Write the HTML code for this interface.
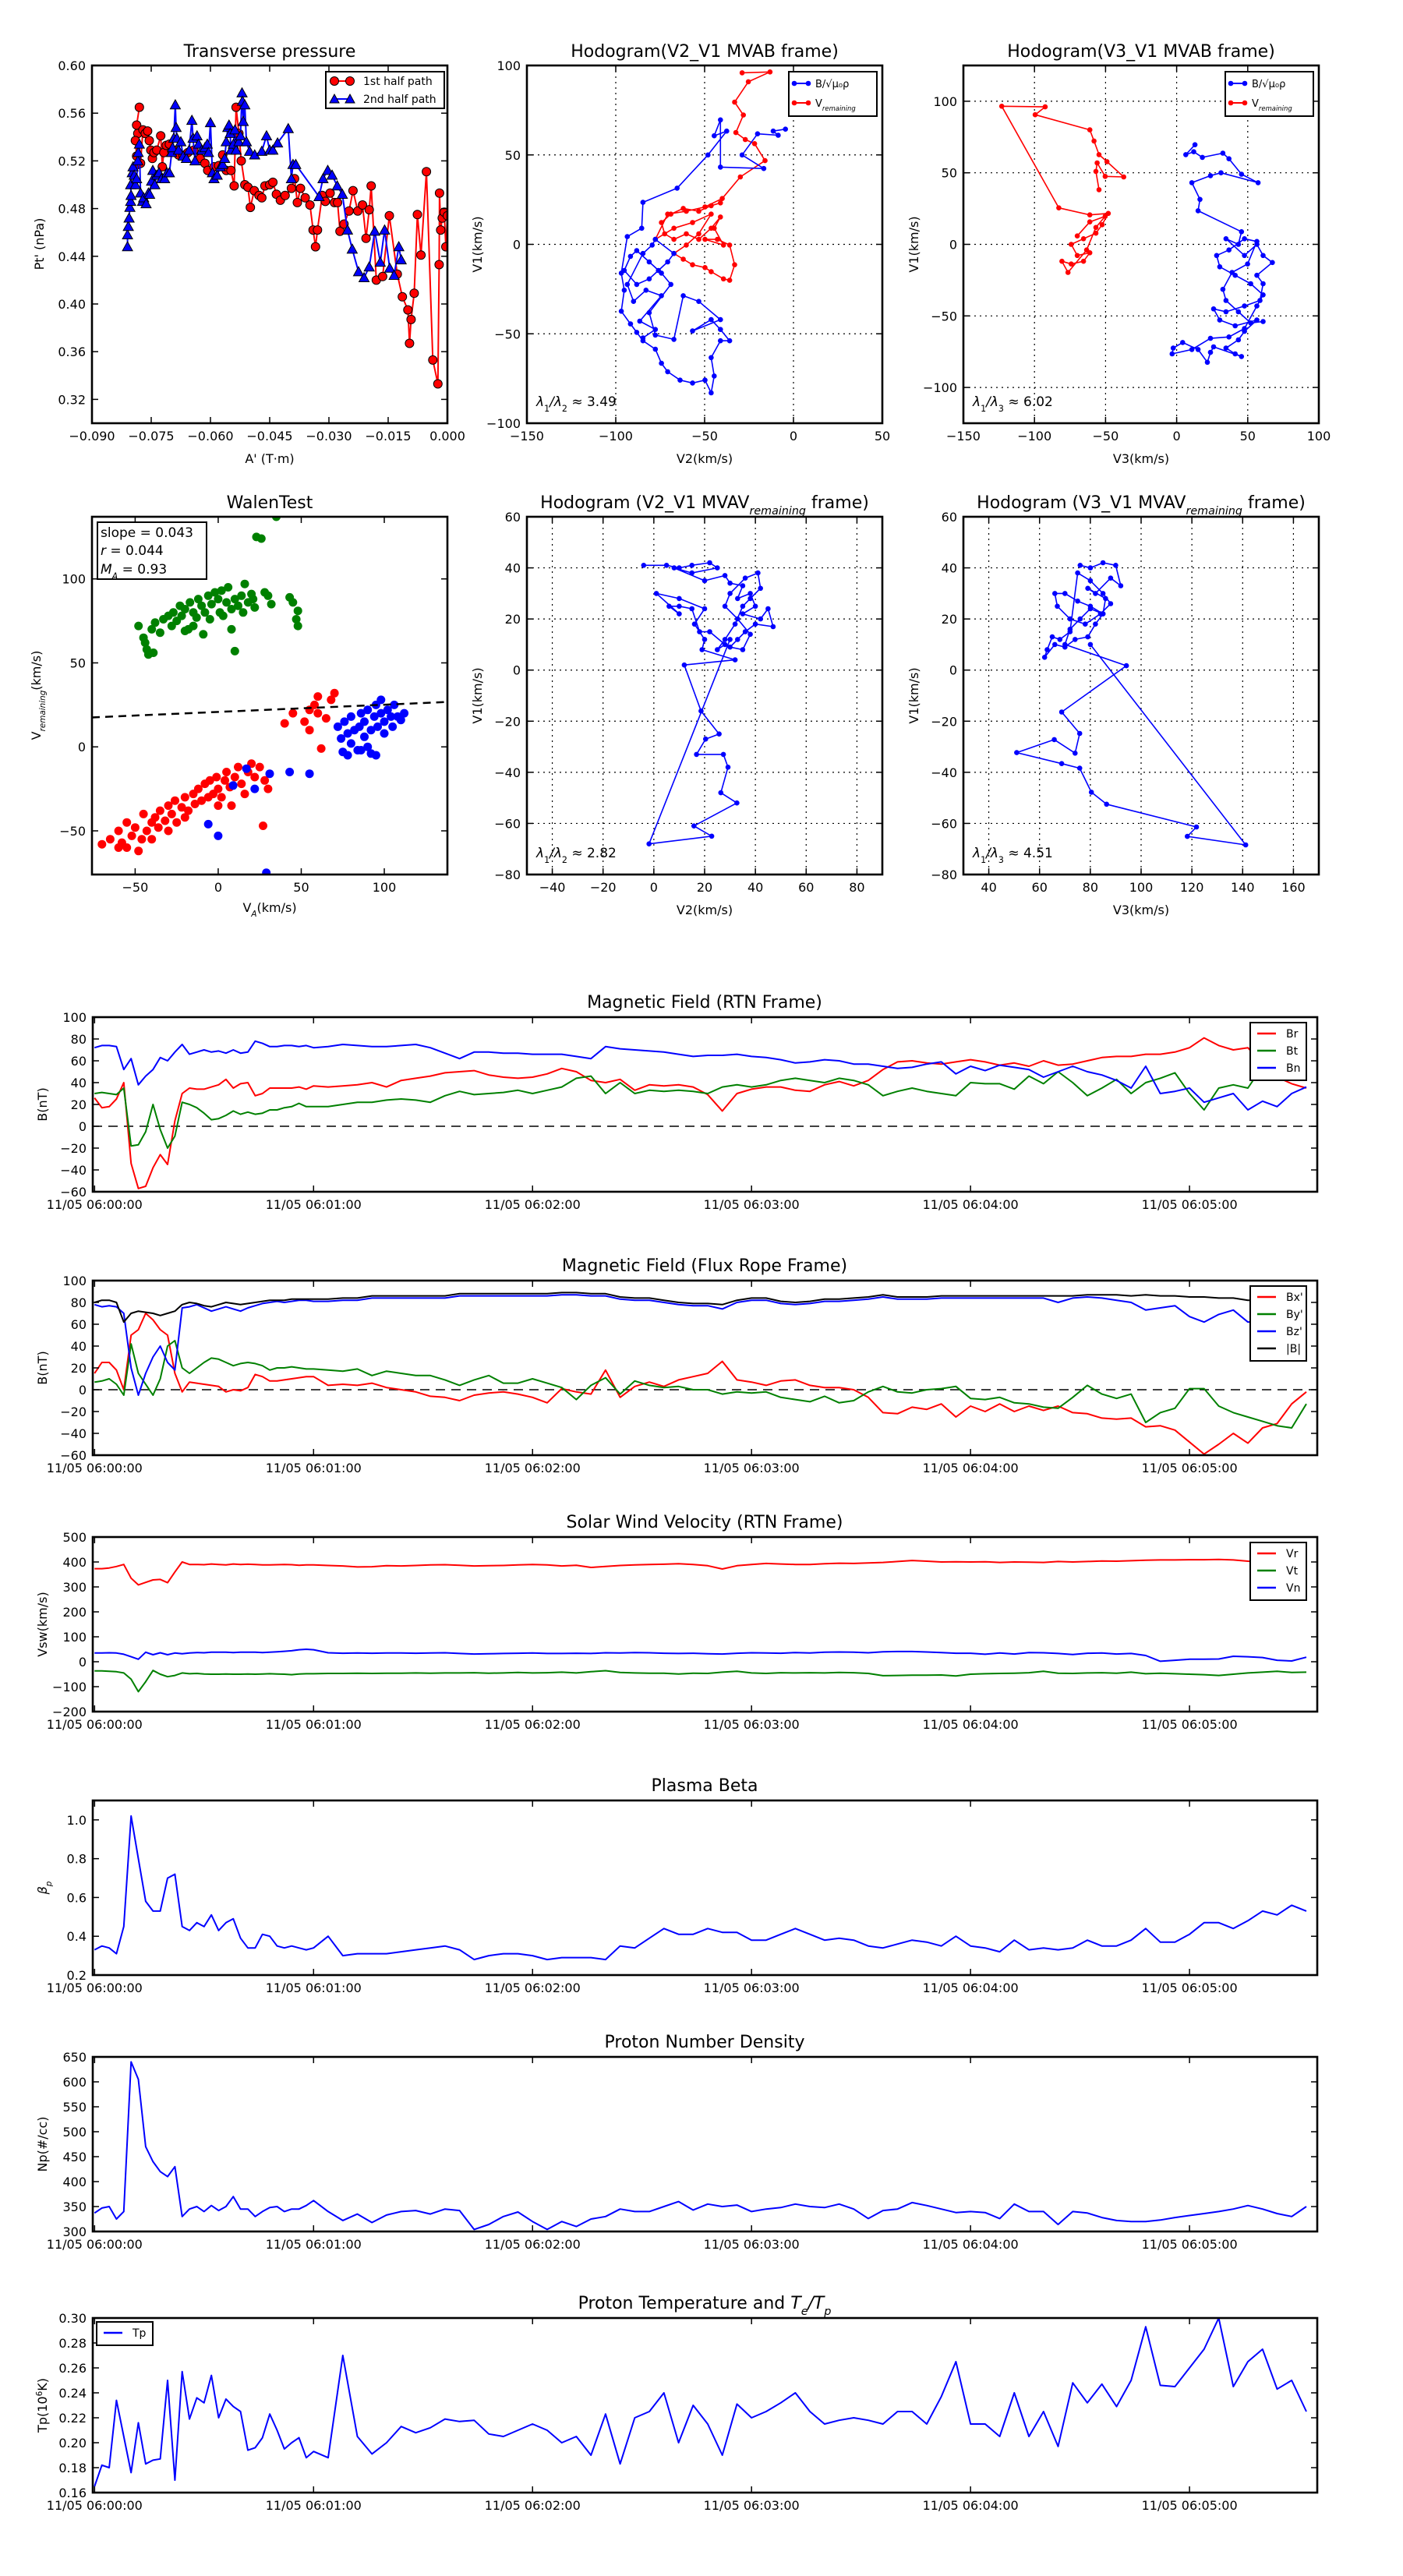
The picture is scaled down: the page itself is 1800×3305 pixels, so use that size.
<!DOCTYPE html>
<html><head><meta charset="utf-8">
<style>
body{margin:0;background:#fff}
svg text{font-family:"DejaVu Sans","Liberation Sans",sans-serif;fill:#000}
</style></head>
<body>
<svg id="fig" xmlns="http://www.w3.org/2000/svg" width="1800" height="3300" viewBox="0 0 1800 3300">
<rect x="0" y="0" width="1800" height="3300" fill="#fff"/>
</svg>
<script>
// ---------- time-series data ----------
const T=[0,2,4,6,8,10,12,14,16,18,20,22,24,26,28,30,32,34,36,38,40,42,44,46,48,50,52,54,56,58,60,64,68,72,76,80,84,88,92,96,100,104,108,112,116,120,124,128,132,136,140,144,148,152,156,160,164,168,172,176,180,184,188,192,196,200,204,208,212,216,220,224,228,232,236,240,244,248,252,256,260,264,268,272,276,280,284,288,292,296,300,304,308,312,316,320,324,328,332];
const Br=[26,17,18,25,40,-34,-57,-55,-38,-26,-35,5,30,35,34,34,36,38,43,35,39,40,28,30,35,35,35,35,36,34,
37,36,37,38,40,36,42,44,46,49, 50,51,47,45,44,45,48,53,50,42, 40,43,33,38,37,38,36,29,14,30, 34,36,36,33,32,38,41,37,42,52, 59,60,58,57,59,61,59,56,58,55, 60,56,57,60,63,64,64,66,66,68, 72,81,74,70,72,57,45,39,35];
const Bt=[30,31,30,29,35,-18,-17,-5,20,-3,-20,-9,22,20,17,12,6,7,10,14,11,13,11,12,15,15,17,18,21,18,
18,18,20,22,22,24,25,24,22,28, 32,29,30,31,33,30,33,36,44,46, 30,40,30,33,32,33,32,30,36,38, 36,38,42,44,42,40,44,42,38,28, 32,35,32,30,28,40,39,39,34,46, 39,50,40,28,35,43,30,40,44,49, 30,15,35,38,35,55,52,48,45];
const Bn=[72,74,74,73,52,62,38,46,52,63,60,68,75,66,68,70,68,69,67,70,67,68,78,76,73,73,74,74,73,74,
72,73,75,74,73,73,74,75,72,67, 62,68,68,67,67,66,66,66,64,62, 73,71,70,69,68,66,64,65,65,66, 64,63,61,58,59,61,60,57,57,55, 53,54,57,59,48,55,51,56,54,52, 45,50,55,50,47,42,35,55,30,32, 35,22,26,30,15,23,18,30,36];
const Bx=[15,25,25,18,0,50,55,70,64,55,50,15,-2,7,6,5,4,3,-2,0,-1,2,14,12,8,8,9,10,11,12,
12,4,5,4,6,2,0,-2,-6,-7, -10,-5,-3,-2,-4,-7,-12,1,-2,-4, 18,-7,3,7,3,9,12,15,26,9, 7,4,8,9,4,2,2,0,-7,-21, -22,-16,-18,-13,-25,-15,-20,-13,-20,-15, -19,-15,-21,-22,-26,-27,-26,-34,-33,-37, -48,-59,-50,-40,-49,-35,-31,-13,-2];
const By=[7,8,10,5,-5,42,15,5,-5,10,40,45,20,15,20,25,29,28,25,22,24,25,24,22,18,20,20,21,20,19,
19,18,17,19,13,17,15,13,13,9, 4,9,13,6,6,10,6,2,-9,4, 11,-4,8,4,2,3,0,0,-4,-2, -3,-2,-7,-9,-11,-6,-12,-10,-2,3, -2,-3,0,1,3,-8,-9,-7,-12,-13, -16,-17,-7,4,-4,-8,-4,-30,-21,-17, 1,1,-15,-21,-25,-29,-33,-35,-13];
const Bz=[78,76,77,76,70,20,-5,15,30,40,25,18,75,76,78,75,72,74,76,74,72,75,77,79,80,81,80,81,82,82,
81,81,82,82,84,84,84,84,84,84, 86,86,86,86,86,86,86,87,87,86, 86,83,82,82,80,78,77,77,74,80, 82,82,79,78,79,81,81,82,83,85, 83,83,83,84,84,84,84,84,84,84, 84,80,84,85,84,82,80,73,75,77, 67,62,69,73,62,63,67,70,73];
const Bmag=[80,82,82,80,62,70,72,71,70,68,70,72,78,80,79,77,76,78,80,79,78,79,80,81,82,82,82,83,83,83,
83,83,84,84,86,86,86,86,86,86, 88,88,88,88,88,88,88,89,89,88, 88,85,84,84,82,80,79,79,78,82, 84,84,81,80,81,83,83,84,85,87, 85,85,85,86,86,86,86,86,86,86, 86,86,86,87,87,87,86,87,86,86, 85,85,84,84,82,82,83,82,81];
const Vr=[373,373,376,382,390,335,308,318,328,330,317,360,400,390,390,389,392,390,388,392,390,391,390,388,388,389,390,389,387,388,
388,386,384,380,381,385,384,386,388,389, 387,384,385,386,388,390,388,384,387,378, 382,386,388,390,391,393,390,385,372,385, 390,394,392,390,390,393,395,394,396,398, 402,406,403,400,401,400,401,398,400,399, 398,402,400,402,404,403,405,407,408,408, 409,409,410,408,403,400,397,385,375];
const Vt=[-37,-37,-38,-40,-45,-70,-120,-80,-35,-50,-60,-55,-45,-48,-47,-49,-50,-50,-49,-50,-50,-49,-50,-49,-48,-49,-50,-52,-49,-48,
-48,-47,-47,-46,-47,-46,-46,-45,-46,-45, -45,-44,-46,-45,-43,-45,-44,-42,-45,-40, -36,-43,-45,-46,-46,-49,-46,-47,-42,-38, -45,-47,-44,-45,-44,-45,-43,-44,-47,-56, -55,-54,-54,-53,-57,-50,-48,-47,-46,-44, -38,-46,-47,-45,-44,-46,-42,-48,-46,-48, -50,-52,-55,-50,-45,-42,-38,-43,-42];
const Vn=[35,35,36,35,30,20,10,38,28,36,28,35,32,35,37,36,38,38,38,37,38,38,38,37,38,40,42,44,48,50,
48,36,34,35,34,35,35,34,35,36, 33,31,32,33,34,35,33,33,34,33, 36,35,37,36,34,33,34,32,31,34, 36,35,34,37,35,38,39,38,36,40, 41,41,39,37,34,34,30,35,31,37, 36,33,29,34,35,31,33,25,2,6, 10,10,11,22,20,17,6,3,18];
const Beta=[0.33,0.35,0.34,0.31,0.45,1.02,0.80,0.58,0.53,0.53,0.70,0.72,0.45,0.43,0.47,0.45,0.51,0.43,0.47,0.49,0.39,0.34,0.34,0.41,0.40,0.35,0.34,0.35,0.34,0.33,
0.34,0.40,0.30,0.31,0.31,0.31,0.32,0.33,0.34,0.35, 0.33,0.28,0.30,0.31,0.31,0.30,0.28,0.29,0.29,0.29, 0.28,0.35,0.34,0.39,0.44,0.41,0.41,0.44,0.42,0.42, 0.38,0.38,0.41,0.44,0.41,0.38,0.39,0.38,0.35,0.34, 0.36,0.38,0.37,0.35,0.40,0.35,0.34,0.32,0.38,0.33, 0.34,0.33,0.34,0.38,0.35,0.35,0.38,0.44,0.37,0.37, 0.41,0.47,0.47,0.44,0.48,0.53,0.51,0.56,0.53];
const Np=[337,347,350,325,340,640,605,470,440,420,410,430,330,345,350,340,352,342,350,370,345,345,330,340,348,350,340,345,345,352,
362,340,322,335,318,333,340,342,335,345, 342,304,314,330,339,320,304,320,310,325, 330,345,340,340,350,360,343,355,350,353, 340,345,348,355,350,348,355,345,326,342, 345,358,352,345,338,340,338,326,355,340, 340,314,340,337,328,322,320,320,323,328, 332,336,340,345,352,345,336,330,350];
const Tp=[0.165,0.182,0.18,0.234,0.205,0.176,0.216,0.183,0.186,0.187,0.25,0.17,0.257,0.219,0.236,0.232,0.254,0.22,0.235,0.229,0.225,0.194,0.196,0.204,0.223,0.21,0.195,0.20,0.204,0.188,
0.193,0.188,0.27,0.205,0.191,0.20,0.213,0.208,0.212,0.219, 0.217,0.218,0.207,0.205,0.21,0.215,0.21,0.20,0.205,0.19, 0.223,0.183,0.22,0.225,0.24,0.20,0.23,0.215,0.19,0.231, 0.22,0.225,0.232,0.24,0.225,0.215,0.218,0.22,0.218,0.215, 0.225,0.225,0.215,0.237,0.265,0.215,0.215,0.205,0.240,0.205, 0.225,0.197,0.248,0.232,0.247,0.229,0.25,0.293,0.246,0.245, 0.26,0.275,0.30,0.245,0.265,0.275,0.243,0.25,0.225];
const timeTicks=[0,60,120,180,240,300];
const timeTickLabels=["11/05 06:00:00","11/05 06:01:00","11/05 06:02:00","11/05 06:03:00","11/05 06:04:00","11/05 06:05:00"];

// ---------- scatter / hodogram data ----------
const p1RedX=[-0.0780,-0.0787,-0.0784,-0.0790,-0.0787,-0.0783,-0.0777,-0.0771,-0.0765,-0.0759,-0.0755,-0.0751,-0.0747,-0.0743,-0.0736,-0.0726,-0.0722,-0.0718,-0.0712,-0.0704,-0.0693,-0.0681,-0.0669,-0.0657,-0.0642,-0.0626,-0.0614,-0.0607,-0.0591,-0.0579,-0.0569,-0.0560,-0.0548,-0.0540,-0.0535,-0.0528,-0.0522,-0.0513,-0.0505,-0.0499,-0.0489,-0.0477,-0.0470,-0.0462,-0.0450,-0.0442,-0.0433,-0.0423,-0.0411,-0.0395,-0.0387,-0.0380,-0.0372,-0.0360,-0.0348,-0.0340,-0.0334,-0.0329,-0.0317,-0.0309,-0.0297,-0.0286,-0.0278,-0.0272,-0.0262,-0.0249,-0.0239,-0.0227,-0.0215,-0.0206,-0.0198,-0.0193,-0.0180,-0.0164,-0.0147,-0.0127,-0.0114,-0.0100,-0.0096,-0.0092,-0.0084,-0.0076,-0.0067,-0.0053,-0.0037,-0.0024,-0.0021,-0.0020,-0.0017,-0.0013,-0.0008,-0.0004,0.0000];
const p1RedY=[0.565,0.550,0.543,0.537,0.524,0.517,0.518,0.546,0.543,0.545,0.537,0.529,0.522,0.527,0.529,0.541,0.515,0.527,0.533,0.534,0.529,0.525,0.524,0.527,0.529,0.522,0.518,0.512,0.515,0.516,0.525,0.512,0.512,0.499,0.565,0.543,0.520,0.500,0.498,0.481,0.495,0.491,0.489,0.499,0.500,0.502,0.492,0.487,0.491,0.497,0.505,0.485,0.497,0.489,0.483,0.462,0.448,0.462,0.491,0.486,0.493,0.485,0.485,0.461,0.467,0.478,0.495,0.478,0.483,0.455,0.479,0.499,0.420,0.423,0.474,0.425,0.406,0.395,0.367,0.387,0.409,0.475,0.441,0.511,0.353,0.333,0.433,0.493,0.462,0.472,0.477,0.448,0.474];
const p1BlueX=[-0.0810,-0.0810,-0.0808,-0.0806,-0.0804,-0.0802,-0.0801,-0.0802,-0.0798,-0.0796,-0.0793,-0.0790,-0.0787,-0.0784,-0.0783,-0.0780,-0.0777,-0.0772,-0.0769,-0.0763,-0.0757,-0.0754,-0.0749,-0.0746,-0.0741,-0.0736,-0.0730,-0.0724,-0.0716,-0.0710,-0.0704,-0.0698,-0.0696,-0.0693,-0.0689,-0.0687,-0.0685,-0.0681,-0.0675,-0.0669,-0.0661,-0.0654,-0.0647,-0.0644,-0.0639,-0.0634,-0.0630,-0.0622,-0.0614,-0.0608,-0.0605,-0.0600,-0.0595,-0.0591,-0.0583,-0.0575,-0.0569,-0.0564,-0.0560,-0.0556,-0.0553,-0.0550,-0.0548,-0.0542,-0.0538,-0.0535,-0.0528,-0.0524,-0.0520,-0.0519,-0.0517,-0.0513,-0.0509,-0.0501,-0.0488,-0.0470,-0.0458,-0.0450,-0.0442,-0.0430,-0.0403,-0.0395,-0.0391,-0.0384,-0.0325,-0.0315,-0.0303,-0.0292,-0.0279,-0.0266,-0.0253,-0.0241,-0.0225,-0.0211,-0.0198,-0.0184,-0.0170,-0.0159,-0.0146,-0.0135,-0.0123,-0.0117];
const p1BlueY=[0.448,0.458,0.465,0.472,0.481,0.486,0.491,0.500,0.510,0.515,0.508,0.500,0.505,0.520,0.527,0.534,0.493,0.486,0.489,0.484,0.493,0.492,0.503,0.512,0.500,0.508,0.510,0.505,0.505,0.510,0.510,0.527,0.531,0.539,0.567,0.548,0.539,0.529,0.536,0.524,0.522,0.529,0.554,0.539,0.520,0.541,0.534,0.529,0.531,0.534,0.527,0.552,0.510,0.505,0.508,0.515,0.517,0.522,0.536,0.548,0.550,0.543,0.529,0.534,0.546,0.529,0.536,0.541,0.577,0.570,0.553,0.567,0.536,0.528,0.525,0.528,0.541,0.529,0.529,0.535,0.547,0.505,0.517,0.517,0.490,0.505,0.512,0.508,0.499,0.492,0.462,0.446,0.427,0.422,0.431,0.461,0.435,0.462,0.430,0.424,0.448,0.437];

const p2BlueX=[-4.5,-11.4,-8.6,-20.2,-28.9,-16.7,-41.1,-41.1,-44.6,-37.6,-48.1,-65.5,-84.7,-85.4,-93.5,-96.9,-95.2,-96.9,-91.7,-88.2,-84.7,-77.7,-74.3,-70.8,-63.8,-56.8,-49.8,-46.3,-44.6,-46.3,-41.1,-35.9,-41.1,-46.3,-56.8,-41.1,-53.3,-62.0,-67.3,-77.7,-81.2,-69.0,-74.3,-81.2,-88.2,-91.7,-95.2,-88.2,-81.2,-76.0,-70.8,-67.3,-77.7,-79.5,-84.7,-93.5,-90.0,-83.0,-74.3,-86.5,-77.7,-84.7];
const p2BlueY=[64.4,63.3,61.0,61.8,50.0,42.4,43.2,69.6,60.7,63.3,50.0,31.4,23.5,9.0,4.3,-16.1,-25.6,-37.4,-44.5,-49.2,-53.9,-58.6,-66.5,-71.2,-75.9,-77.5,-75.9,-83.0,-73.6,-63.3,-53.9,-53.9,-47.6,-42.1,-48.4,-42.1,-31.9,-28.7,-53.1,-50.7,-38.2,-22.4,-16.1,-9.8,-3.5,-6.7,-14.6,-22.4,-19.3,-14.6,-9.8,-5.1,2.8,-0.4,-5.1,-22.4,-31.9,-25.6,-28.7,-42.9,-47.6,-52.3];
const p2RedX=[-28.9,-13.2,-25.4,-33.1,-28.2,-32.4,-27.1,-21.9,-16.0,-29.9,-40.1,-49.8,-60.3,-70.8,-77.7,-67.3,-56.8,-46.3,-53.3,-60.3,-67.3,-62.0,-56.8,-49.8,-46.3,-39.4,-35.9,-33.1,-35.9,-42.8,-49.8,-39.4,-44.6,-41.1,-46.3,-53.3,-60.3,-67.3,-72.5,-74.3,-69.0,-62.0,-53.3,-46.3,-41.1];
const p2RedY=[95.9,96.4,90.9,79.5,72.3,62.5,58.6,56.3,46.8,37.7,25.6,20.9,18.5,16.9,2.8,9.0,12.2,16.9,5.9,-0.4,-5.1,-8.3,-11.4,-13.0,-15.3,-19.3,-20.1,-11.4,-0.4,2.8,2.8,-0.4,9.0,15.3,9.0,2.8,5.9,2.8,5.9,12.2,16.9,20.1,18.5,21.6,23.2];
const p3BlueX=[12.9,6.4,12.0,18.1,32.5,36.8,45.6,57.3,31.2,23.8,10.7,16.4,15.1,45.6,43.4,34.7,47.7,56.4,60.8,67.3,56.4,60.8,58.6,47.7,34.7,26.0,30.3,41.2,56.4,47.7,43.4,34.7,41.2,45.6,26.0,23.8,21.6,15.1,4.2,-2.4,-3.2,10.7,23.8,36.8,47.7,56.4,60.8,52.1,41.2,30.3,28.1,36.8,47.7,56.4,49.9,39.0,32.5,34.7,43.4,52.1,60.8];
const p3BlueY=[69.6,62.7,64.7,60.8,63.7,59.8,49.0,43.1,50.0,48.0,43.1,31.4,23.5,8.8,0,3.9,-7.8,0,-7.8,-12.7,-21.6,-27.5,-39.2,-43.1,-47.1,-45.1,-52.9,-56.9,-52.9,-60.8,-66.7,-72.5,-76.5,-78.4,-71.6,-75.5,-82.4,-73.5,-68.6,-72.5,-76.5,-73.5,-65.7,-64.7,-58.8,-43.1,-35.3,-27.5,-21.6,-15.7,-7.8,-3.9,3.9,2.0,-13.7,-19.6,-31.4,-39.2,-47.1,-54.9,-53.9];
const p3RedX=[-54.6,-56.8,-55.9,-50.3,-37.2,-49.0,-54.6,-58.1,-61.1,-99.5,-92.5,-123.0,-82.9,-61.1,-48.1,-52.4,-56.8,-65.5,-74.2,-69.9,-61.1,-65.5,-74.2,-80.7,-76.4,-63.3,-56.8,-50.3,-61.1,-69.9];
const p3RedY=[38.2,51.0,56.9,47.5,47.1,57.8,62.7,72.2,80.0,90.6,96.1,96.5,25.5,20.6,21.6,13.7,7.8,3.9,0,-7.8,-5.9,-11.8,-13.7,-11.8,-19.6,-3.9,11.8,19.6,15.7,5.9];

const walenGreenX=[-48,-45,-44,-43,-42,-40,-38,-35,-33,-30,-28,-27,-25,-23,-22,-20,-18,-17,-15,-13,-12,-10,-9,-8,-6,-5,-4,-2,0,1,2,3,5,6,8,8,10,10,12,14,15,16,18,20,21,22,23,26,28,30,32,35,43,45,48,48,47,-39,-20,-15];
const walenGreenY=[72,65,62,58,55,70,74,68,76,78,72,80,75,84,78,82,70,86,80,77,88,84,67,80,90,76,85,92,88,80,93,78,86,95,82,70,88,57,84,90,80,97,86,91,88,83,125,124,92,90,85,137,89,86,81,72,76,56,69,72];
const walenRedX=[-70,-65,-60,-58,-55,-52,-50,-48,-46,-45,-43,-40,-38,-36,-35,-32,-30,-28,-26,-25,-22,-20,-18,-15,-14,-12,-10,-8,-6,-5,-3,-1,0,2,4,5,7,8,10,12,14,16,18,20,22,25,28,30,27,-40,-30,-20,0,-60,-55,40,45,52,55,58,60,62,65,68,70,60,55];
const walenRedY=[-58,-55,-50,-57,-60,-53,-48,-62,-55,-40,-50,-45,-42,-48,-38,-44,-35,-40,-32,-45,-36,-30,-38,-28,-34,-25,-32,-22,-30,-20,-28,-18,-25,-30,-20,-15,-24,-35,-18,-12,-22,-28,-15,-10,-18,-12,-20,-25,-47,-55,-50,-42,-35,-60,-45,14,20,15,10,25,20,-1,17,28,32,30,22];
const walenBlueX=[72,74,75,76,78,80,80,82,84,85,86,88,88,90,90,92,94,95,95,96,98,98,100,100,102,104,105,106,108,110,112,92,86,78,17,31,43,55,9,22,-6,0,29];
const walenBlueY=[12,5,-3,15,8,2,18,10,-2,12,20,6,15,22,0,10,18,25,-5,12,28,20,15,8,22,18,12,25,18,16,20,-4,-2,-5,-13,-16,-15,-16,-23,-25,-46,-53,-75];
const walenSlope=0.043, walenIntercept=20.8;

const p5X=[-4,5,10,15,22,25,15,8,20,28,30,35,33,38,40,35,42,45,47,40,36,33,30,35,38,33,28,30,36,41,42,38,35,32,28,25,28,22,18,15,10,6,10,1,10,20,16,20,19,32,12,18.6,25.7,20.4,16.8,27.4,29.2,26.4,32.7,15.8,22.8,-1.9,30];
const p5Y=[41,41,40,41,42,40,38,40,35,37,34,33,28,30,25,22,20,24,17,18,15,12,9,8,14,20,25,30,36,38,32,28,25,18,12,8,10,15,15,24,25,25,22,30,28,24,18,12,8,4,2,-16,-25,-27,-33,-33,-38,-48,-52,-61,-65,-68,12];
const p6X=[76,80,85,90,92,88,82,79,86,85,80,75,70,66,67,72,78,84,88,85,80,75,72,68,65,63,62,66,70,74,79,82,85,80,76,72,70,94.2,68.7,75.8,74,65.8,51,68.7,75.8,80.4,86.4,121.8,118.2,141.2,80];
const p6Y=[41,40,42,41,33,36,30,32,28,22,25,27,30,30,25,20,18,22,26,30,35,38,15,12,13,8,5,10,9,12,13,18,22,24,20,16,10,1.7,-16.4,-24.8,-32.5,-27.2,-32.3,-36.6,-38.4,-47.8,-52.5,-61.4,-65.1,-68.4,10];

// ---------- helpers ----------
const NS='http://www.w3.org/2000/svg';
const svg=document.getElementById('fig');
let clipId=0;
function mk(tag,attrs,parent){const e=document.createElementNS(NS,tag);for(const k in attrs)e.setAttribute(k,attrs[k]);parent.appendChild(e);return e;}
function text(parent,x,y,s,size,anchor,rot){
  const t=mk('text',{x:x,y:y,'font-size':size,'text-anchor':anchor||'middle'},parent);
  if(rot)t.setAttribute('transform','rotate(-90 '+x+' '+y+')');
  t.textContent=s;return t;
}
function axes(name,box,xd,yd){
  const g=mk('g',{},svg);
  
  
  const sx=v=>box.x0+(v-xd[0])/(xd[1]-xd[0])*(box.x1-box.x0);
  const sy=v=>box.y1-(v-yd[0])/(yd[1]-yd[0])*(box.y1-box.y0);
  const id='clip'+(clipId++);
  const cp=mk('clipPath',{id:id},g);
  mk('rect',{x:box.x0,y:box.y0,width:box.x1-box.x0,height:box.y1-box.y0},cp);
  const gridG=mk('g',{},g);
  const plot=mk('g',{'clip-path':'url(#'+id+')'},g);
  return {g,gridG,plot,sx,sy,box};
}
function finish(ax,xv,xl,yv,yl,o){
  const b=ax.box,g=ax.g,L=8;o=o||{};
  xv.forEach((v,i)=>{
    const X=ax.sx(v);
    if(o.grid){const gl=mk('line',{x1:X,y1:b.y0,x2:X,y2:b.y1,stroke:'#000','stroke-width':1.2,'stroke-dasharray':'2,5'},ax.gridG);
      
      }
    mk('line',{x1:X,y1:b.y1,x2:X,y2:b.y1-L,stroke:'#000','stroke-width':1.5},g);
    mk('line',{x1:X,y1:b.y0,x2:X,y2:b.y0+L,stroke:'#000','stroke-width':1.5},g);
    const t=text(g,X,b.y1+(o.xoff||22),xl[i],o.fs||16);
    
    
  });
  yv.forEach((v,i)=>{
    const Y=ax.sy(v);
    if(o.grid){const gl=mk('line',{x1:b.x0,y1:Y,x2:b.x1,y2:Y,stroke:'#000','stroke-width':1.2,'stroke-dasharray':'2,5'},ax.gridG);
      
      }
    mk('line',{x1:b.x0,y1:Y,x2:b.x0+L,y2:Y,stroke:'#000','stroke-width':1.5},g);
    mk('line',{x1:b.x1,y1:Y,x2:b.x1-L,y2:Y,stroke:'#000','stroke-width':1.5},g);
    const t=text(g,b.x0-8,Y+6,yl[i],o.fs||16,'end');
    
    
  });
  const fr=mk('rect',{x:b.x0,y:b.y0,width:b.x1-b.x0,height:b.y1-b.y0,fill:'none',stroke:'#000','stroke-width':2.6},g);
  
  
}
function linePath(ax,xs,ys,color,w){
  let d='';for(let i=0;i<xs.length;i++)d+=(i?'L':'M')+ax.sx(xs[i]).toFixed(1)+' '+ax.sy(ys[i]).toFixed(1);
  return mk('path',{d:d,fill:'none',stroke:color,'stroke-width':w||2,'stroke-linejoin':'round'},ax.plot);
}
function dots(ax,xs,ys,color,r,stroke){
  const g=mk('g',{},ax.plot);
  for(let i=0;i<xs.length;i++){
    const c=mk('circle',{cx:ax.sx(xs[i]).toFixed(1),cy:ax.sy(ys[i]).toFixed(1),r:r,fill:color},g);
    if(stroke){c.setAttribute('stroke',stroke);c.setAttribute('stroke-width',1);}
    
    
  }
  return g;
}
function tris(ax,xs,ys,color){
  const g=mk('g',{},ax.plot);
  for(let i=0;i<xs.length;i++){
    const X=ax.sx(xs[i]),Y=ax.sy(ys[i]),s=6.5;
    const p=mk('path',{d:`M${X} ${Y-s}L${X+s} ${Y+s*0.8}L${X-s} ${Y+s*0.8}Z`,fill:color,stroke:'#000','stroke-width':1},g);
    
    
  }
  return g;
}
function title(x,y,s){const t=text(svg,x,y,s,22);return t;}
function sub(t,main,subs,after){ // append tspan subscript
  t.textContent='';
  const a=mk('tspan',{},t);a.textContent=main;
  const b=mk('tspan',{'baseline-shift':'sub','font-size':'65%','font-style':'italic'},t);b.textContent=subs;
  if(after){const c=mk('tspan',{},t);c.textContent=after;}
}

// ---------- Panel 1: transverse pressure ----------
{
const box={x0:118,y0:84,x1:574,y1:543};
const ax=axes('transverse-pressure-chart',box,[-0.09,0.0],[0.30,0.60]);
const l1=linePath(ax,p1RedX,p1RedY,'#ff0000',2);


dots(ax,p1RedX,p1RedY,'#ff0000',5.5,'#000');
const l2=linePath(ax,p1BlueX,p1BlueY,'#0000ff',2);


tris(ax,p1BlueX,p1BlueY,'#0000ff');
finish(ax,[-0.09,-0.075,-0.06,-0.045,-0.03,-0.015,0],["−0.090","−0.075","−0.060","−0.045","−0.030","−0.015","0.000"],[0.32,0.36,0.40,0.44,0.48,0.52,0.56,0.60],["0.32","0.36","0.40","0.44","0.48","0.52","0.56","0.60"],{xoff:22});
title(346,73,'Transverse pressure');
const xl=text(svg,346,594,"A' (T·m)",16);
const yl=text(svg,56,313,"Pt' (nPa)",16,'middle',true);
const lg=mk('g',{},svg);


mk('rect',{x:418,y:92,width:152,height:47,fill:'#fff',stroke:'#000','stroke-width':2},lg);
mk('line',{x1:429,y1:104,x2:449,y2:104,stroke:'#ff0000','stroke-width':2},lg);
mk('circle',{cx:429,cy:104,r:5.5,fill:'#ff0000',stroke:'#000'},lg);
mk('circle',{cx:449,cy:104,r:5.5,fill:'#ff0000',stroke:'#000'},lg);
const e1=text(lg,466,109,'1st half path',14,'start');
mk('line',{x1:429,y1:127,x2:449,y2:127,stroke:'#0000ff','stroke-width':2},lg);
mk('path',{d:'M429 121L435 132L423 132Z',fill:'#0000ff',stroke:'#000'},lg);
mk('path',{d:'M449 121L455 132L443 132Z',fill:'#0000ff',stroke:'#000'},lg);
const e2=text(lg,466,132,'2nd half path',14,'start');
}

// ---------- hodogram helper ----------
function hodo(name,box,xd,yd,series,xt,yt,ttl,xlab,lam,lamSub,lamVal,legend){
  const ax=axes(name,box,xd,yd);
  series.forEach(s=>{
    const l=linePath(ax,s.x,s.y,s.c,1.6);
    
    
    dots(ax,s.x,s.y,s.c,3.3);
  });
  finish(ax,xt,xt.map(v=>v<0?'−'+(-v):''+v),yt,yt.map(v=>v<0?'−'+(-v):''+v),{grid:true});
  const cx=(box.x0+box.x1)/2;
  const xl=text(svg,cx,box.y1+51,xlab,16);
  const yl=text(svg,box.x0-58,(box.y0+box.y1)/2,'V1(km/s)',16,'middle',true);
  const lt=mk('text',{x:box.x0+12,y:box.y1-22,'font-size':17},svg);
  
  
  const a=mk('tspan',{'font-style':'italic'},lt);a.textContent='λ';
  const b=mk('tspan',{'baseline-shift':'sub','font-size':'65%'},lt);b.textContent='1';
  const c=mk('tspan',{'font-style':'italic'},lt);c.textContent='/λ';
  const d=mk('tspan',{'baseline-shift':'sub','font-size':'65%'},lt);d.textContent=lamSub;
  const e=mk('tspan',{},lt);e.textContent=' ≈ '+lamVal;
  if(legend){
    const lg=mk('g',{},svg);
    
    
    const lx=box.x1-120,ly=box.y0+8;
    mk('rect',{x:lx,y:ly,width:113,height:57,fill:'#fff',stroke:'#000','stroke-width':2},lg);
    [['#0000ff',ly+15],['#ff0000',ly+40]].forEach((q,i)=>{
      mk('line',{x1:lx+7,y1:q[1],x2:lx+25,y2:q[1],stroke:q[0],'stroke-width':2},lg);
      mk('circle',{cx:lx+7,cy:q[1],r:3.3,fill:q[0]},lg);
      mk('circle',{cx:lx+25,cy:q[1],r:3.3,fill:q[0]},lg);
    });
    const t1=text(lg,lx+34,ly+20,'B/√μ₀ρ',13,'start');
    const t2=text(lg,lx+34,ly+45,'',13,'start');sub(t2,'V','remaining');
    
    
  }
  const tt=title(cx,ttl.y,'');
  if(ttl.sub){sub(tt,ttl.a,ttl.sub,ttl.b);}else tt.textContent=ttl.a;
  return ax;
}
hodo('hodogram-v2-v1-mvab',{x0:676,y0:84,x1:1132,y1:543},[-150,50],[-100,100],
  [{x:p2RedX,y:p2RedY,c:'#ff0000',n:'v-remaining-path'},{x:p2BlueX,y:p2BlueY,c:'#0000ff',n:'b-alfven-path'}],
  [-150,-100,-50,0,50],[-100,-50,0,50,100],{y:73,a:'Hodogram(V2_V1 MVAB frame)'},'V2(km/s)','λ','2','3.49',true);
hodo('hodogram-v3-v1-mvab',{x0:1236,y0:84,x1:1692,y1:543},[-150,100],[-125,125],
  [{x:p3RedX,y:p3RedY,c:'#ff0000',n:'v-remaining-path'},{x:p3BlueX,y:p3BlueY,c:'#0000ff',n:'b-alfven-path'}],
  [-150,-100,-50,0,50,100],[-100,-50,0,50,100],{y:73,a:'Hodogram(V3_V1 MVAB frame)'},'V3(km/s)','λ','3','6.02',true);
hodo('hodogram-v2-v1-mvav',{x0:676,y0:663,x1:1132,y1:1122},[-50,90],[-80,60],
  [{x:p5X,y:p5Y,c:'#0000ff',n:'b-alfven-path'}],
  [-40,-20,0,20,40,60,80],[-80,-60,-40,-20,0,20,40,60],{y:652,a:'Hodogram (V2_V1 MVAV',sub:'remaining',b:' frame)'},'V2(km/s)','λ','2','2.82',false);
hodo('hodogram-v3-v1-mvav',{x0:1236,y0:663,x1:1692,y1:1122},[30,170],[-80,60],
  [{x:p6X,y:p6Y,c:'#0000ff',n:'b-alfven-path'}],
  [40,60,80,100,120,140,160],[-80,-60,-40,-20,0,20,40,60],{y:652,a:'Hodogram (V3_V1 MVAV',sub:'remaining',b:' frame)'},'V3(km/s)','λ','3','4.51',false);

// ---------- Walen test ----------
{
const box={x0:118,y0:663,x1:574,y1:1122};
const xd=[-76,138],yd=[-76,137];
const ax=axes('walen-test-chart',box,xd,yd);
dots(ax,walenGreenX,walenGreenY,'#008000',5.5);
dots(ax,walenRedX,walenRedY,'#ff0000',5.5);
dots(ax,walenBlueX,walenBlueY,'#0000ff',5.5);
const fl=mk('line',{x1:ax.sx(xd[0]),y1:ax.sy(walenIntercept+walenSlope*xd[0]),x2:ax.sx(xd[1]),y2:ax.sy(walenIntercept+walenSlope*xd[1]),stroke:'#000','stroke-width':2.5,'stroke-dasharray':'10,7'},ax.plot);


finish(ax,[-50,0,50,100],['−50','0','50','100'],[-50,0,50,100],['−50','0','50','100'],{});
title(346,652,'WalenTest');
const xl=text(svg,346,1170,'',16);sub(xl,'V','A','(km/s)');
const yl=text(svg,52,892,'',16,'middle',true);sub(yl,'V','remaining','(km/s)');
const sb=mk('g',{},svg);


mk('rect',{x:125,y:670,width:140,height:73,fill:'#fff',stroke:'#000','stroke-width':2},sb);
text(sb,129,689,'slope = 0.043',17,'start');
const r=text(sb,129,712,'',17,'start');
const ri=mk('tspan',{'font-style':'italic'},r);ri.textContent='r';
const rr=mk('tspan',{},r);rr.textContent=' = 0.044';
const m=text(sb,129,736,'',17,'start');
const mi=mk('tspan',{'font-style':'italic'},m);mi.textContent='M';
const ms=mk('tspan',{'baseline-shift':'sub','font-size':'65%','font-style':'italic'},m);ms.textContent='A';
const mr=mk('tspan',{},m);mr.textContent=' = 0.93';
}

// ---------- time series ----------
const tBox=(top)=>({x0:119,y0:top,x1:1690,y1:top+224});
function ts(name,top,yd,series,yt,ylabs,ttl,ylab,zero,legend){
  const ax=axes(name,tBox(top),[-0.5,335],yd);
  if(zero){const z=mk('line',{x1:ax.box.x0,y1:ax.sy(0),x2:ax.box.x1,y2:ax.sy(0),stroke:'#000','stroke-width':1.5,'stroke-dasharray':'12,8'},ax.plot);
    
    }
  series.forEach(s=>{const l=linePath(ax,T,s.v,s.c,2);
    
    });
  finish(ax,timeTicks,timeTickLabels,yt,ylabs,{xoff:22});
  const tt=title(904,top-12,'');
  if(typeof ttl==='string')tt.textContent=ttl;else ttl(tt);
  const yl=text(svg,60,top+112,'',16,'middle',true);
  if(typeof ylab==='string')yl.textContent=ylab;else ylab(yl);
  
  
  if(legend){
    const lg=mk('g',{},svg);
    
    
    const h=legend.items.length*22+8;
    mk('rect',{x:legend.x,y:legend.y,width:72,height:h,fill:'#fff',stroke:'#000','stroke-width':2},lg);
    legend.items.forEach((it,i)=>{
      const y=legend.y+14+i*22;
      mk('line',{x1:legend.x+9,y1:y,x2:legend.x+33,y2:y,stroke:it[1],'stroke-width':2.5},lg);
      const e=text(lg,legend.x+46,y+5,it[0],14,'start');
      
      
    });
  }
  return ax;
}
const bTicks=[-60,-40,-20,0,20,40,60,80,100],bLabs=['−60','−40','−20','0','20','40','60','80','100'];
ts('magnetic-field-rtn-chart',1305,[-60,100],[{v:Br,c:'#ff0000',n:'br-line'},{v:Bt,c:'#008000',n:'bt-line'},{v:Bn,c:'#0000ff',n:'bn-line'}],
  bTicks,bLabs,'Magnetic Field (RTN Frame)','B(nT)',true,{x:1604,y:1312,items:[['Br','#ff0000'],['Bt','#008000'],['Bn','#0000ff']]});
ts('magnetic-field-flux-rope-chart',1643,[-60,100],[{v:Bx,c:'#ff0000',n:'bx-line'},{v:By,c:'#008000',n:'by-line'},{v:Bz,c:'#0000ff',n:'bz-line'},{v:Bmag,c:'#000000',n:'bmag-line'}],
  bTicks,bLabs,'Magnetic Field (Flux Rope Frame)','B(nT)',true,{x:1604,y:1650,items:[["Bx'",'#ff0000'],["By'",'#008000'],["Bz'",'#0000ff'],['|B|','#000000']]});
ts('solar-wind-velocity-chart',1972,[-200,500],[{v:Vr,c:'#ff0000',n:'vr-line'},{v:Vt,c:'#008000',n:'vt-line'},{v:Vn,c:'#0000ff',n:'vn-line'}],
  [-200,-100,0,100,200,300,400,500],['−200','−100','0','100','200','300','400','500'],'Solar Wind Velocity (RTN Frame)','Vsw(km/s)',false,{x:1604,y:1979,items:[['Vr','#ff0000'],['Vt','#008000'],['Vn','#0000ff']]});
ts('plasma-beta-chart',2310,[0.2,1.1],[{v:Beta,c:'#0000ff',n:'beta-line'}],
  [0.2,0.4,0.6,0.8,1.0],['0.2','0.4','0.6','0.8','1.0'],'Plasma Beta',t=>{const a=mk('tspan',{'font-style':'italic'},t);a.textContent='β';const b=mk('tspan',{'baseline-shift':'sub','font-size':'65%','font-style':'italic'},t);b.textContent='p';},false,null);
ts('proton-density-chart',2639,[300,650],[{v:Np,c:'#0000ff',n:'density-line'}],
  [300,350,400,450,500,550,600,650],['300','350','400','450','500','550','600','650'],'Proton Number Density','Np(#/cc)',false,null);
ts('proton-temperature-chart',2974,[0.16,0.30],[{v:Tp,c:'#0000ff',n:'tp-line'}],
  [0.16,0.18,0.20,0.22,0.24,0.26,0.28,0.30],['0.16','0.18','0.20','0.22','0.24','0.26','0.28','0.30'],
  t=>{const a=mk('tspan',{},t);a.textContent='Proton Temperature and ';const b=mk('tspan',{'font-style':'italic'},t);b.textContent='T';const c=mk('tspan',{'baseline-shift':'sub','font-size':'65%','font-style':'italic'},t);c.textContent='e';const d=mk('tspan',{'font-style':'italic'},t);d.textContent='/T';const e=mk('tspan',{'baseline-shift':'sub','font-size':'65%','font-style':'italic'},t);e.textContent='p';},
  t=>{const a=mk('tspan',{},t);a.textContent='Tp(10';const b=mk('tspan',{'baseline-shift':'super','font-size':'65%'},t);b.textContent='6';const c=mk('tspan',{},t);c.textContent='K)';},
  false,{x:124,y:2979,items:[['Tp','#0000ff']]});
</script>
</body></html>
